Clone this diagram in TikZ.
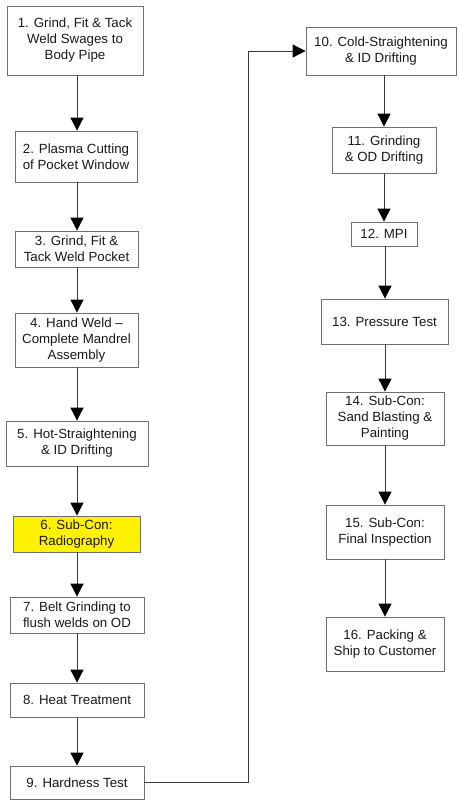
\documentclass[tikz,border=0pt]{standalone}
\usepackage{fontspec}
\setmainfont{Liberation Sans}
\usepackage{tikz}
\usetikzlibrary{arrows.meta, positioning}
\usepackage{xcolor}
\definecolor{subconyellow}{RGB}{255,242,0}
\definecolor{boxline}{RGB}{110,110,110}
\definecolor{flowline}{RGB}{60,60,60}

\begin{document}
\begin{tikzpicture}[x=1pt, y=-1pt,
		stage/.style={draw=boxline, line width=0.8pt, inner sep=0pt, align=center,
			text=black!90, font=\fontsize{13.3}{16}\selectfont},
		flow/.style={->, flowline, line width=0.8pt},
		>={Triangle[width=13pt,length=13pt,color=black]}]
		\useasboundingbox (0,0) rectangle (458,800);
		\draw (75,40.5) node[stage, minimum width=136, minimum height=69] (s1) {1. Grind, Fit \& Tack\\Weld Swages to\\Body Pipe}
		(76,156.5) node[stage, minimum width=122, minimum height=51] (s2) {2. Plasma Cutting\\of Pocket Window}
		(76.5,249) node[stage, minimum width=123, minimum height=36] (s3) {3. Grind, Fit \&\\Tack Weld Pocket}
		(76.5,340) node[stage, minimum width=123, minimum height=54] (s4) {4. Hand Weld --\\Complete Mandrel\\Assembly}
		(77,443.5) node[stage, minimum width=142, minimum height=45] (s5) {5. Hot-Straightening\\\& ID Drifting}
		(76.5,534) node[stage, fill=subconyellow, minimum width=127, minimum height=36] (s6) {6. Sub-Con:\\Radiography}
		(77,615) node[stage, minimum width=134, minimum height=36] (s7) {7. Belt Grinding to\\flush welds on OD}
		(77,700) node[stage, minimum width=134, minimum height=34] (s8) {8. Heat Treatment}
		(77,782.5) node[stage, minimum width=134, minimum height=33] (s9) {9. Hardness Test}
		(381,51) node[stage, minimum width=150, minimum height=48] (s10) {10. Cold-Straightening\\\& ID Drifting}
		(384,150) node[stage, minimum width=104, minimum height=46] (s11) {11. Grinding\\\& OD Drifting}
		(384,234) node[stage, minimum width=66, minimum height=24] (s12) {12. MPI}
		(384.5,321.5) node[stage, minimum width=127, minimum height=45] (s13) {13. Pressure Test}
		(385,418.5) node[stage, minimum width=118, minimum height=53] (s14) {14. Sub-Con:\\Sand Blasting \&\\Painting}
		(385,532) node[stage, minimum width=118, minimum height=54] (s15) {15. Sub-Con:\\Final Inspection}
		(385,644) node[stage, minimum width=118, minimum height=54] (s16) {16. Packing \&\\Ship to Customer};
		\coordinate (turn) at (248,51);

		\draw[flow] (s1.south -| 77,0) -- (s2.north -| 77,0);
		\draw[flow] (s2.south -| 77,0) -- (s3.north -| 77,0);
		\draw[flow] (s3.south -| 77,0) -- (s4.north -| 77,0);
		\draw[flow] (s4.south -| 77,0) -- (s5.north -| 77,0);
		\draw[flow] (s5.south -| 77,0) -- (s6.north -| 77,0);
		\draw[flow] (s6.south -| 77,0) -- (s7.north -| 77,0);
		\draw[flow] (s7) -- (s8);
		\draw[flow] (s8) -- (s9);
		\draw[flow] (s9.east) -| (turn) -- (s10.west);
		\draw[flow] (s10.south -| s11) -- (s11);
		\draw[flow] (s11) -- (s12);
		\draw[flow] (s12.south -| 385,0) -- (s13.north -| 385,0);
		\draw[flow] (s13.south -| 385,0) -- (s14.north -| 385,0);
		\draw[flow] (s14) -- (s15);
		\draw[flow] (s15) -- (s16);
	\end{tikzpicture}
\end{document}
